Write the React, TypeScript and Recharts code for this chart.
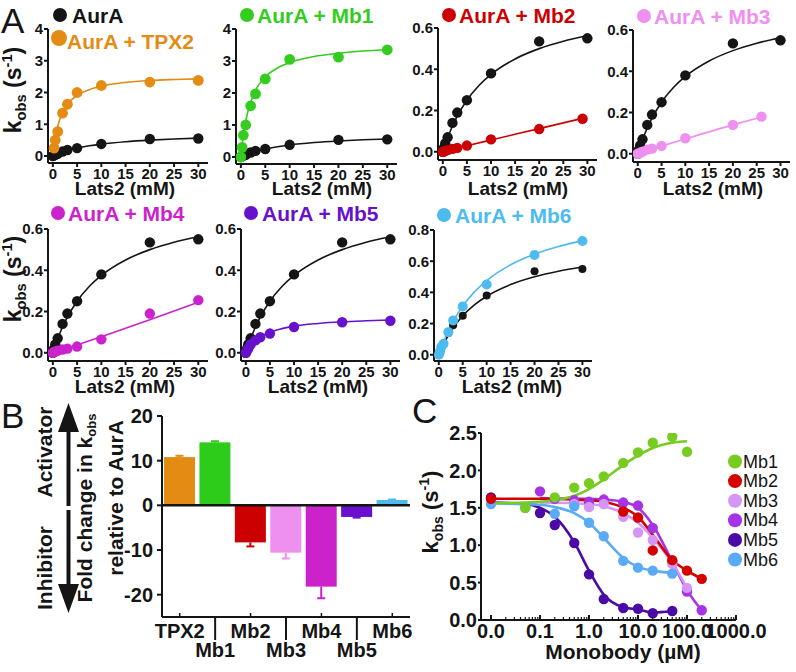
import React from 'react';
import { ComposedChart, Line, Scatter, XAxis, YAxis, Bar, ReferenceLine } from 'recharts';

const FONT = '"Liberation Sans", Arial, Helvetica, sans-serif';
const INK = '#151515';

// ---------- Panel A colours ----------
const cAurA = '#151515';
const cTPX2 = '#e38b12';
const cMb1 = '#33cc1f';
const cMb2 = '#cc0000';
const cMb3 = '#ef8fef';
const cMb4 = '#cc22cc';
const cMb5 = '#6611cc';
const cMb6 = '#4dbbef';

// ---------- Panel A data (Lats2 mM vs kobs s^-1) ----------
const latsTicks = [0, 5, 10, 15, 20, 25, 30];
const aurAX = [0, 0.25, 0.5, 1, 2, 3, 5, 10, 20, 30];
const aurAY = [0, 0.02, 0.04, 0.07, 0.14, 0.19, 0.25, 0.38, 0.535, 0.55];
const tpx2X = [0.25, 0.5, 1, 2, 3, 5, 10, 20, 30];
const tpx2Y = [0.25, 0.5, 0.77, 1.35, 1.63, 2.0, 2.22, 2.33, 2.38];
const mb1X = [0, 0.25, 0.5, 1, 2, 3, 5, 10, 20, 30];
const mb1Y = [0, 0.3, 0.68, 1.0, 1.6, 1.97, 2.44, 3.05, 3.12, 3.35];
const mb2X = [0, 0.25, 0.5, 1, 2, 3, 5, 10, 20, 29];
const mb2Y = [0, 0.002, 0.004, 0.008, 0.014, 0.019, 0.03, 0.06, 0.11, 0.16];
const mb3X = [0, 0.5, 1, 2, 3, 5, 10, 20, 26];
const mb3Y = [0, 0.005, 0.01, 0.02, 0.025, 0.038, 0.075, 0.14, 0.18];
const mb4X = [0, 0.25, 0.5, 1, 2, 3, 5, 10, 20, 30];
const mb4Y = [0, 0.003, 0.006, 0.01, 0.016, 0.02, 0.03, 0.065, 0.19, 0.255];
const mb5X = [0, 0.25, 0.5, 1, 2, 3, 5, 10, 20, 30];
const mb5Y = [0, 0.01, 0.02, 0.04, 0.06, 0.075, 0.093, 0.125, 0.148, 0.155];
const mb6X = [0, 0.25, 0.5, 1, 2, 3, 5, 10, 20, 30];
const mb6Y = [0, 0.02, 0.05, 0.07, 0.145, 0.22, 0.31, 0.45, 0.64, 0.73];

// fitted curves
const fitX = [0, 0.5, 1, 2, 3, 5, 7.5, 10, 15, 20, 25, 30];
const aurAFit = [0, 0.036, 0.068, 0.125, 0.173, 0.25, 0.321, 0.375, 0.45, 0.5, 0.536, 0.5625];
const tpx2Fit = [0, 0.57, 0.93, 1.37, 1.63, 1.91, 2.09, 2.2, 2.32, 2.38, 2.41, 2.43];
const mb1Fit = [0, 0.67, 1.13, 1.71, 2.08, 2.5, 2.78, 2.95, 3.14, 3.24, 3.31, 3.35];
const mb5Fit = [0, 0.02, 0.036, 0.06, 0.077, 0.1, 0.117, 0.129, 0.142, 0.15, 0.155, 0.159];
const mb6Fit = [0, 0.043, 0.083, 0.154, 0.214, 0.3125, 0.405, 0.476, 0.577, 0.645, 0.694, 0.732];
const mb2FitX = [0, 5, 10, 20, 29];
const mb2Fit = [0, 0.029, 0.057, 0.112, 0.162];
const mb3FitX = [0, 5, 10, 20, 26];
const mb3Fit = [0, 0.037, 0.072, 0.14, 0.178];
const mb4FitX = [0, 5, 10, 20, 30];
const mb4Fit = [0, 0.038, 0.078, 0.16, 0.245];

// ---------- Panel B data ----------
const bCats = ['TPX2', 'Mb1', 'Mb2', 'Mb3', 'Mb4', 'Mb5', 'Mb6'];
const bValues = [10.8, 14.1, -8.3, -10.6, -18.2, -2.6, 1.2];
const bErrors = [0.3, 0.25, 0.9, 1.3, 2.6, 0.15, 0.1];
const bColors = [cTPX2, '#2ecc1a', cMb2, cMb3, cMb4, '#6a0fcc', cMb6];
const bTicks = [-20, -10, 0, 10, 20];

// ---------- Panel C data (monobody µM vs kobs) ----------
const cC1 = '#77cc22';
const cC2 = '#d40000';
const cC3 = '#d595f5';
const cC4 = '#a633e6';
const cC5 = '#4a0aa5';
const cC6 = '#5aaaf5';
const cMajor = [0.01, 0.1, 1, 10, 100, 1000];
const cMinorMult = [2, 3, 4, 5, 6, 7, 8, 9];
const cYTicks = [0, 0.5, 1, 1.5, 2, 2.5];
const cLegend = ['Mb1', 'Mb2', 'Mb3', 'Mb4', 'Mb5', 'Mb6'];

const c1X = [0.05, 0.2, 0.5, 1, 2, 5, 10, 20, 50, 100];
const c1Y = [1.5, 1.64, 1.77, 1.83, 1.92, 2.1, 2.24, 2.37, 2.45, 2.25];
const c1FX = [0.01, 0.1, 0.2, 0.5, 1, 2, 5, 10, 20, 50, 100];
const c1FY = [1.56, 1.58, 1.6, 1.66, 1.75, 1.88, 2.07, 2.2, 2.3, 2.37, 2.39];

const c2X = [0.01, 5, 10, 20, 50, 100, 200];
const c2Y = [1.62, 1.45, 1.37, 0.93, 0.8, 0.66, 0.55];
const c2FX = [0.01, 0.1, 0.5, 1, 2, 5, 10, 20, 50, 100, 200];
const c2FY = [1.62, 1.62, 1.61, 1.6, 1.58, 1.5, 1.38, 1.14, 0.8, 0.66, 0.55];

const c3X = [0.5, 1, 2, 5, 10, 20, 50, 100];
const c3Y = [1.55, 1.51, 1.55, 1.38, 1.17, 1.07, 0.75, 0.43];
const c3FX = [0.1, 0.5, 1, 2, 5, 10, 20, 50, 100];
const c3FY = [1.57, 1.56, 1.55, 1.52, 1.43, 1.3, 1.1, 0.76, 0.43];

const c4X = [0.1, 0.2, 0.5, 1, 2, 5, 10, 20, 50, 100, 200];
const c4Y = [1.72, 1.62, 1.6, 1.58, 1.61, 1.57, 1.53, 1.23, 0.78, 0.38, 0.13];
const c4FX = [0.1, 0.5, 1, 2, 5, 10, 20, 50, 100, 200];
const c4FY = [1.63, 1.62, 1.62, 1.61, 1.58, 1.5, 1.27, 0.78, 0.4, 0.13];

const c5X = [0.01, 0.1, 0.2, 0.5, 1, 2, 5, 10, 20, 50];
const c5Y = [1.64, 1.43, 1.27, 1.03, 0.61, 0.28, 0.16, 0.15, 0.09, 0.12];
const c5FX = [0.01, 0.05, 0.1, 0.2, 0.5, 1, 2, 5, 10, 20, 50];
const c5FY = [1.57, 1.55, 1.5, 1.38, 1.04, 0.66, 0.34, 0.17, 0.14, 0.1, 0.12];

const c6X = [0.01, 0.05, 0.2, 0.5, 1, 2, 5, 10, 20, 50];
const c6Y = [1.55, 1.5, 1.42, 1.52, 1.3, 1.12, 0.79, 0.7, 0.66, 0.62];
const c6FX = [0.01, 0.1, 0.2, 0.5, 1, 2, 5, 10, 20, 50];
const c6FY = [1.56, 1.54, 1.51, 1.43, 1.3, 1.1, 0.83, 0.71, 0.66, 0.63];

const pts = (xs: number[], ys: number[]) => xs.map((x, i) => ({ x, y: ys[i] }));

type Layer = { curve: { x: number; y: number }[]; points: { x: number; y: number }[]; color: string; r: number };

const aurALayer = (r = 5.2): Layer => ({ curve: pts(fitX, aurAFit), points: pts(aurAX, aurAY), color: cAurA, r });

const tickStyle = (size: number) => ({ fontSize: size, fontWeight: 700, fill: INK, fontFamily: FONT });

const KinPanel = ({ plot, yDomain, yTicks, dec, layers }: { plot: number[]; yDomain: number[]; yTicks: number[]; dec: number; layers: Layer[] }) => {
  const [L, T, R, B] = plot;
  const YW = 46, XH = 28, P = 12;
  const w = R - L + YW + 2 * P;
  const h = B - T + XH + 2 * P;
  return (
    <div style={{ position: 'absolute', left: L - YW - P, top: T - P, width: w, height: h }}>
      <ComposedChart width={w} height={h} margin={{ top: P, right: P, bottom: P, left: P }}>
        <XAxis type="number" dataKey="x" domain={[-1, 32]} allowDataOverflow ticks={latsTicks} interval={0} height={XH}
          axisLine={{ stroke: INK, strokeWidth: 2 }} tickLine={{ stroke: INK, strokeWidth: 2 }} tickSize={4} tickMargin={1}
          tick={tickStyle(15)} />
        <YAxis type="number" dataKey="y" domain={yDomain} allowDataOverflow ticks={yTicks} interval={0} width={YW}
          axisLine={{ stroke: INK, strokeWidth: 2 }} tickLine={{ stroke: INK, strokeWidth: 2 }} tickSize={4} tickMargin={1}
          tickFormatter={(v: number) => v.toFixed(dec)} tick={tickStyle(15)} />
        {layers.map((ly, i) => (
          <React.Fragment key={i}>
            <Line data={ly.curve} dataKey="y" type="monotone" stroke={ly.color} strokeWidth={1.6} dot={false} activeDot={false} isAnimationActive={false} />
            <Scatter data={ly.points} dataKey="y" fill={ly.color} isAnimationActive={false}
              shape={(p: any) => <circle cx={p.cx} cy={p.cy} r={ly.r} fill={ly.color} />} />
          </React.Fragment>
        ))}
      </ComposedChart>
    </div>
  );
};

const BarShape = (p: any) => {
  const top = Math.min(p.y, p.y + p.height);
  const h = Math.abs(p.height);
  const v = p.payload.value;
  const e = p.payload.err;
  const color = p.payload.color;
  const ppu = h / Math.abs(v);
  const cx = p.x + p.width / 2;
  const y0 = v > 0 ? top : top + h;
  const y1 = v > 0 ? top - e * ppu : top + h + e * ppu;
  return (
    <g>
      <rect x={p.x} y={top} width={p.width} height={h} fill={color} />
      <line x1={cx} x2={cx} y1={y0} y2={y1} stroke={color} strokeWidth={2} />
      <line x1={cx - 4} x2={cx + 4} y1={y1} y2={y1} stroke={color} strokeWidth={2} />
    </g>
  );
};

const BTick = (p: any) => {
  const odd = p.index % 2 === 1;
  return (
    <g>
      {odd ? (
        <line x1={p.x} x2={p.x} y1={p.y} y2={p.y + 23} stroke={INK} strokeWidth={2} />
      ) : (
        <line x1={p.x} x2={p.x} y1={p.y} y2={p.y - 4} stroke={INK} strokeWidth={1.5} />
      )}
      <text x={p.x} y={p.y + (odd ? 40 : 21)} textAnchor="middle" fontSize={20} fontWeight={700} fill={INK} fontFamily={FONT}>
        {p.payload.value}
      </text>
    </g>
  );
};

const PanelB = () => {
  const L = 162, T = 416, R = 410, B = 617;
  const YW = 60, XH = 46, P = 12;
  const w = R - L + YW + 2 * P;
  const h = B - T + XH + 2 * P;
  const data = bCats.map((c, i) => ({ cat: c, value: bValues[i], err: bErrors[i], color: bColors[i] }));
  return (
    <div style={{ position: 'absolute', left: L - YW - P, top: T - P, width: w, height: h }}>
      <ComposedChart width={w} height={h} data={data} margin={{ top: P, right: P, bottom: P, left: P }}>
        <XAxis dataKey="cat" type="category" height={XH} interval={0} tickLine={false} tickSize={0} tickMargin={0}
          axisLine={{ stroke: INK, strokeWidth: 2 }} tick={BTick} />
        <YAxis type="number" domain={[-25, 20]} allowDataOverflow ticks={bTicks} interval={0} width={YW}
          axisLine={{ stroke: INK, strokeWidth: 2 }} tickLine={{ stroke: INK, strokeWidth: 2 }} tickSize={5} tickMargin={4}
          tick={tickStyle(20)} />
        <Bar dataKey="value" barSize={31} shape={BarShape} isAnimationActive={false} />
        <ReferenceLine y={0} stroke={INK} strokeWidth={2.5} />
      </ComposedChart>
    </div>
  );
};

const cTicksAll = (() => {
  const t: number[] = [];
  cMajor.forEach((m) => {
    t.push(m);
    if (m < 1000) cMinorMult.forEach((k) => t.push(+(m * k).toPrecision(3)));
  });
  return t;
})();

const CXTick = (p: any) => {
  const v = p.payload.value;
  const major = cMajor.some((m) => Math.abs(m - v) < m * 1e-6);
  return (
    <g>
      <line x1={p.x} x2={p.x} y1={p.y} y2={p.y - (major ? 5 : 3)} stroke={INK} strokeWidth={major ? 2 : 1.2} />
      {major && (
        <text x={p.x} y={p.y + 18} textAnchor="middle" fontSize={20} fontWeight={700} fill={INK} fontFamily={FONT}>
          {v.toFixed(1)}
        </text>
      )}
    </g>
  );
};

const PanelC = () => {
  const L = 481, T = 433, R = 736, B = 620;
  const YW = 50, XH = 30, P = 12, PR = 45;
  const w = R - L + YW + P + PR;
  const h = B - T + XH + 2 * P;
  const series: Layer[] = [
    { curve: pts(c5FX, c5FY), points: pts(c5X, c5Y), color: cC5, r: 5.2 },
    { curve: pts(c4FX, c4FY), points: pts(c4X, c4Y), color: cC4, r: 5.2 },
    { curve: pts(c3FX, c3FY), points: pts(c3X, c3Y), color: cC3, r: 5.2 },
    { curve: pts(c6FX, c6FY), points: pts(c6X, c6Y), color: cC6, r: 5.2 },
    { curve: pts(c2FX, c2FY), points: pts(c2X, c2Y), color: cC2, r: 5.2 },
    { curve: pts(c1FX, c1FY), points: pts(c1X, c1Y), color: cC1, r: 5.2 },
  ];
  return (
    <div style={{ position: 'absolute', left: L - YW - P, top: T - P, width: w, height: h }}>
      <ComposedChart width={w} height={h} margin={{ top: P, right: PR, bottom: P, left: P }}>
        <XAxis type="number" dataKey="x" scale="log" domain={[0.00625, 1000]} allowDataOverflow ticks={cTicksAll} interval={0}
          height={XH} tickLine={false} tickSize={0} tickMargin={0} axisLine={{ stroke: INK, strokeWidth: 2 }} tick={CXTick} />
        <YAxis type="number" dataKey="y" domain={[0, 2.5]} allowDataOverflow ticks={cYTicks} interval={0} width={YW}
          axisLine={{ stroke: INK, strokeWidth: 2 }} tickLine={{ stroke: INK, strokeWidth: 2 }} tickSize={3} tickMargin={1}
          tickFormatter={(v: number) => v.toFixed(1)} tick={tickStyle(20)} />
        {series.map((ly, i) => (
          <React.Fragment key={i}>
            <Line data={ly.curve} dataKey="y" type="monotone" stroke={ly.color} strokeWidth={2.6} dot={false} activeDot={false} isAnimationActive={false} />
            <Scatter data={ly.points} dataKey="y" fill={ly.color} isAnimationActive={false}
              shape={(p: any) => <circle cx={p.cx} cy={p.cy} r={ly.r} fill={ly.color} />} />
          </React.Fragment>
        ))}
      </ComposedChart>
    </div>
  );
};

const KLabel = ({ x, y, size = 22 }: { x: number; y: number; size?: number }) => (
  <text transform={`translate(${x},${y}) rotate(-90)`} textAnchor="middle" fontSize={size} fontWeight={700} fill={INK}>
    k<tspan fontSize={size * 0.64} dy={size * 0.22}>obs</tspan>
    <tspan dy={-size * 0.22}> (s</tspan>
    <tspan fontSize={size * 0.64} dy={-size * 0.4}>-1</tspan>
    <tspan dy={size * 0.4}>)</tspan>
  </text>
);

const legendA = [
  { cx: 60, cy: 15, r: 7, color: cAurA, text: 'AurA', tx: 72, ty: 23 },
  { cx: 59, cy: 38, r: 8, color: cTPX2, text: 'AurA + TPX2', tx: 67, ty: 49 },
  { cx: 247, cy: 15, r: 7, color: cMb1, text: 'AurA + Mb1', tx: 257, ty: 23 },
  { cx: 449, cy: 15, r: 7, color: cMb2, text: 'AurA + Mb2', tx: 459, ty: 23 },
  { cx: 644, cy: 16, r: 7, color: cMb3, text: 'AurA + Mb3', tx: 654, ty: 24 },
  { cx: 58, cy: 213, r: 7, color: cMb4, text: 'AurA + Mb4', tx: 68, ty: 221 },
  { cx: 251, cy: 213, r: 7, color: cMb5, text: 'AurA + Mb5', tx: 262, ty: 221 },
  { cx: 444, cy: 215, r: 7, color: cMb6, text: 'AurA + Mb6', tx: 455, ty: 223 },
];

const latsLabels = [
  { x: 125, y: 195 }, { x: 322, y: 195 }, { x: 518, y: 195 }, { x: 713, y: 195 },
  { x: 125, y: 393 }, { x: 318, y: 393 }, { x: 512, y: 393 },
];

const cLegendColors = [cC1, cC2, cC3, cC4, cC5, cC6];

export default function App() {
  return (
    <div style={{ position: 'absolute', left: 0, top: 0, width: 796, height: 672, background: '#fff', fontFamily: FONT }}>
      <KinPanel plot={[48, 29, 208, 163]} yDomain={[-0.22, 4]} yTicks={[0, 1, 2, 3, 4]} dec={0}
        layers={[aurALayer(), { curve: pts(fitX, tpx2Fit), points: pts(tpx2X, tpx2Y), color: cTPX2, r: 5.4 }]} />
      <KinPanel plot={[236, 29, 397, 164]} yDomain={[-0.22, 4]} yTicks={[0, 1, 2, 3, 4]} dec={0}
        layers={[aurALayer(), { curve: pts(fitX, mb1Fit), points: pts(mb1X, mb1Y), color: cMb1, r: 5.4 }]} />
      <KinPanel plot={[438, 28, 597, 160]} yDomain={[-0.04, 0.6]} yTicks={[0, 0.2, 0.4, 0.6]} dec={1}
        layers={[aurALayer(), { curve: pts(mb2FitX, mb2Fit), points: pts(mb2X, mb2Y), color: cMb2, r: 5.2 }]} />
      <KinPanel plot={[633, 30, 790, 162]} yDomain={[-0.04, 0.6]} yTicks={[0, 0.2, 0.4, 0.6]} dec={1}
        layers={[aurALayer(), { curve: pts(mb3FitX, mb3Fit), points: pts(mb3X, mb3Y), color: cMb3, r: 5.2 }]} />
      <KinPanel plot={[48, 229, 208, 361]} yDomain={[-0.04, 0.6]} yTicks={[0, 0.2, 0.4, 0.6]} dec={1}
        layers={[aurALayer(), { curve: pts(mb4FitX, mb4Fit), points: pts(mb4X, mb4Y), color: cMb4, r: 5.2 }]} />
      <KinPanel plot={[241, 229, 400, 361]} yDomain={[-0.04, 0.6]} yTicks={[0, 0.2, 0.4, 0.6]} dec={1}
        layers={[aurALayer(), { curve: pts(fitX, mb5Fit), points: pts(mb5X, mb5Y), color: cMb5, r: 5.2 }]} />
      <KinPanel plot={[434, 230, 592, 361]} yDomain={[-0.04, 0.8]} yTicks={[0, 0.2, 0.4, 0.6, 0.8]} dec={1}
        layers={[aurALayer(4.0), { curve: pts(fitX, mb6Fit), points: pts(mb6X, mb6Y), color: cMb6, r: 5.0 }]} />
      <PanelB />
      <PanelC />
      <svg width={796} height={672} style={{ position: 'absolute', left: 0, top: 0, pointerEvents: 'none' }} fontFamily={FONT}>
        {/* panel letters */}
        <text x={1} y={33} fontSize={35} fill={INK}>A</text>
        <text x={1} y={428} fontSize={35} fill={INK}>B</text>
        <text x={412} y={423} fontSize={35} fill={INK}>C</text>

        {/* panel A legends */}
        {legendA.map((l, i) => (
          <g key={i}>
            <circle cx={l.cx} cy={l.cy} r={l.r} fill={l.color} />
            <text x={l.tx} y={l.ty} fontSize={21} fontWeight={700} fill={l.color}>{l.text}</text>
          </g>
        ))}
        {latsLabels.map((p, i) => (
          <text key={i} x={p.x} y={p.y} textAnchor="middle" fontSize={19} fontWeight={700} fill={INK}>Lats2 (mM)</text>
        ))}
        <KLabel x={21} y={90} size={23} />
        <KLabel x={21} y={279} size={23} />

        {/* panel B annotations */}
        <rect x={66.5} y={428} width={4} height={78} fill={INK} />
        <polygon points="58,432 68.5,403 79,432" fill={INK} />
        <rect x={66.5} y={510} width={4} height={77} fill={INK} />
        <polygon points="58,584 68.5,613 79,584" fill={INK} />
        <text transform="translate(52,452) rotate(-90)" textAnchor="middle" fontSize={21} fontWeight={700} fill={INK}>Activator</text>
        <text transform="translate(52,568) rotate(-90)" textAnchor="middle" fontSize={21} fontWeight={700} fill={INK}>Inhibitor</text>
        <text transform="translate(92,508) rotate(-90)" textAnchor="middle" fontSize={21} fontWeight={700} fill={INK}>
          Fold change in k<tspan fontSize={13} dy={4}>obs</tspan>
        </text>
        <text transform="translate(123,498) rotate(-90)" textAnchor="middle" fontSize={21} fontWeight={700} fill={INK}>relative to AurA</text>

        {/* panel C annotations */}
        <KLabel x={438} y={512} size={22} />
        <text x={623} y={659} textAnchor="middle" fontSize={21} fontWeight={700} fill={INK}>Monobody (µM)</text>
        {cLegend.map((name, i) => (
          <g key={name}>
            <circle cx={735} cy={461.5 + i * 19.6} r={7} fill={cLegendColors[i]} />
            <text x={743} y={467.5 + i * 19.6} fontSize={18} fill={INK}>{name}</text>
          </g>
        ))}
      </svg>
    </div>
  );
}
